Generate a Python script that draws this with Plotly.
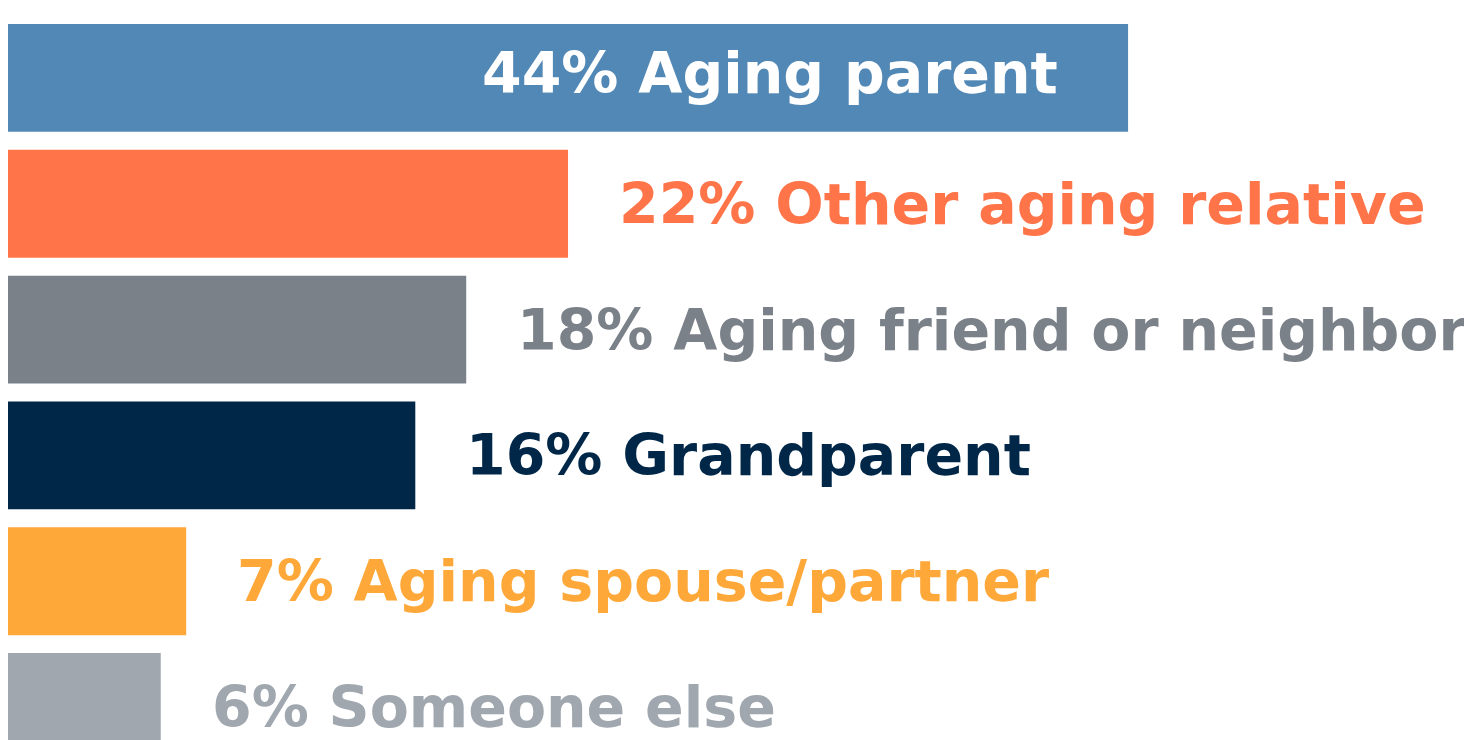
import plotly.graph_objects as go

categories = ["Aging parent", "Other aging relative", "Aging friend or neighbor",
              "Grandparent", "Aging spouse/partner", "Someone else"]
values = [44, 22, 18, 16, 7, 6]
colors = ["#5288B5", "#FF7549", "#7B8189", "#002748", "#FFA83A", "#A0A7AF"]

FONT = "DejaVu Sans"
FONT_SIZE = 57

fig = go.Figure(go.Bar(
    x=values,
    y=categories,
    orientation="h",
    marker=dict(color=colors, line=dict(width=0)),
    width=0.857,
    hoverinfo="skip",
))

# labels: first one sits inside its bar in white, the rest follow the bar end
for i, (cat, val, col) in enumerate(zip(categories, values, colors)):
    inside = i == 0
    fig.add_annotation(
        x=val, y=cat,
        text=f"<b>{val}% {cat}</b>",
        showarrow=False,
        xanchor="right" if inside else "left",
        xshift=-68 if inside else 49,
        yshift=5 if inside else 0,
        font=dict(family=FONT, size=FONT_SIZE, color="white" if inside else col),
    )

fig.update_layout(
    width=1464, height=732,
    margin=dict(l=0, r=0, t=0, b=0),
    paper_bgcolor="white", plot_bgcolor="white",
    showlegend=False,
    xaxis=dict(range=[0, 57.51], visible=False, fixedrange=True),
    yaxis=dict(range=[5.262, -0.556], visible=False, fixedrange=True),
)

fig.write_html("out.html")
